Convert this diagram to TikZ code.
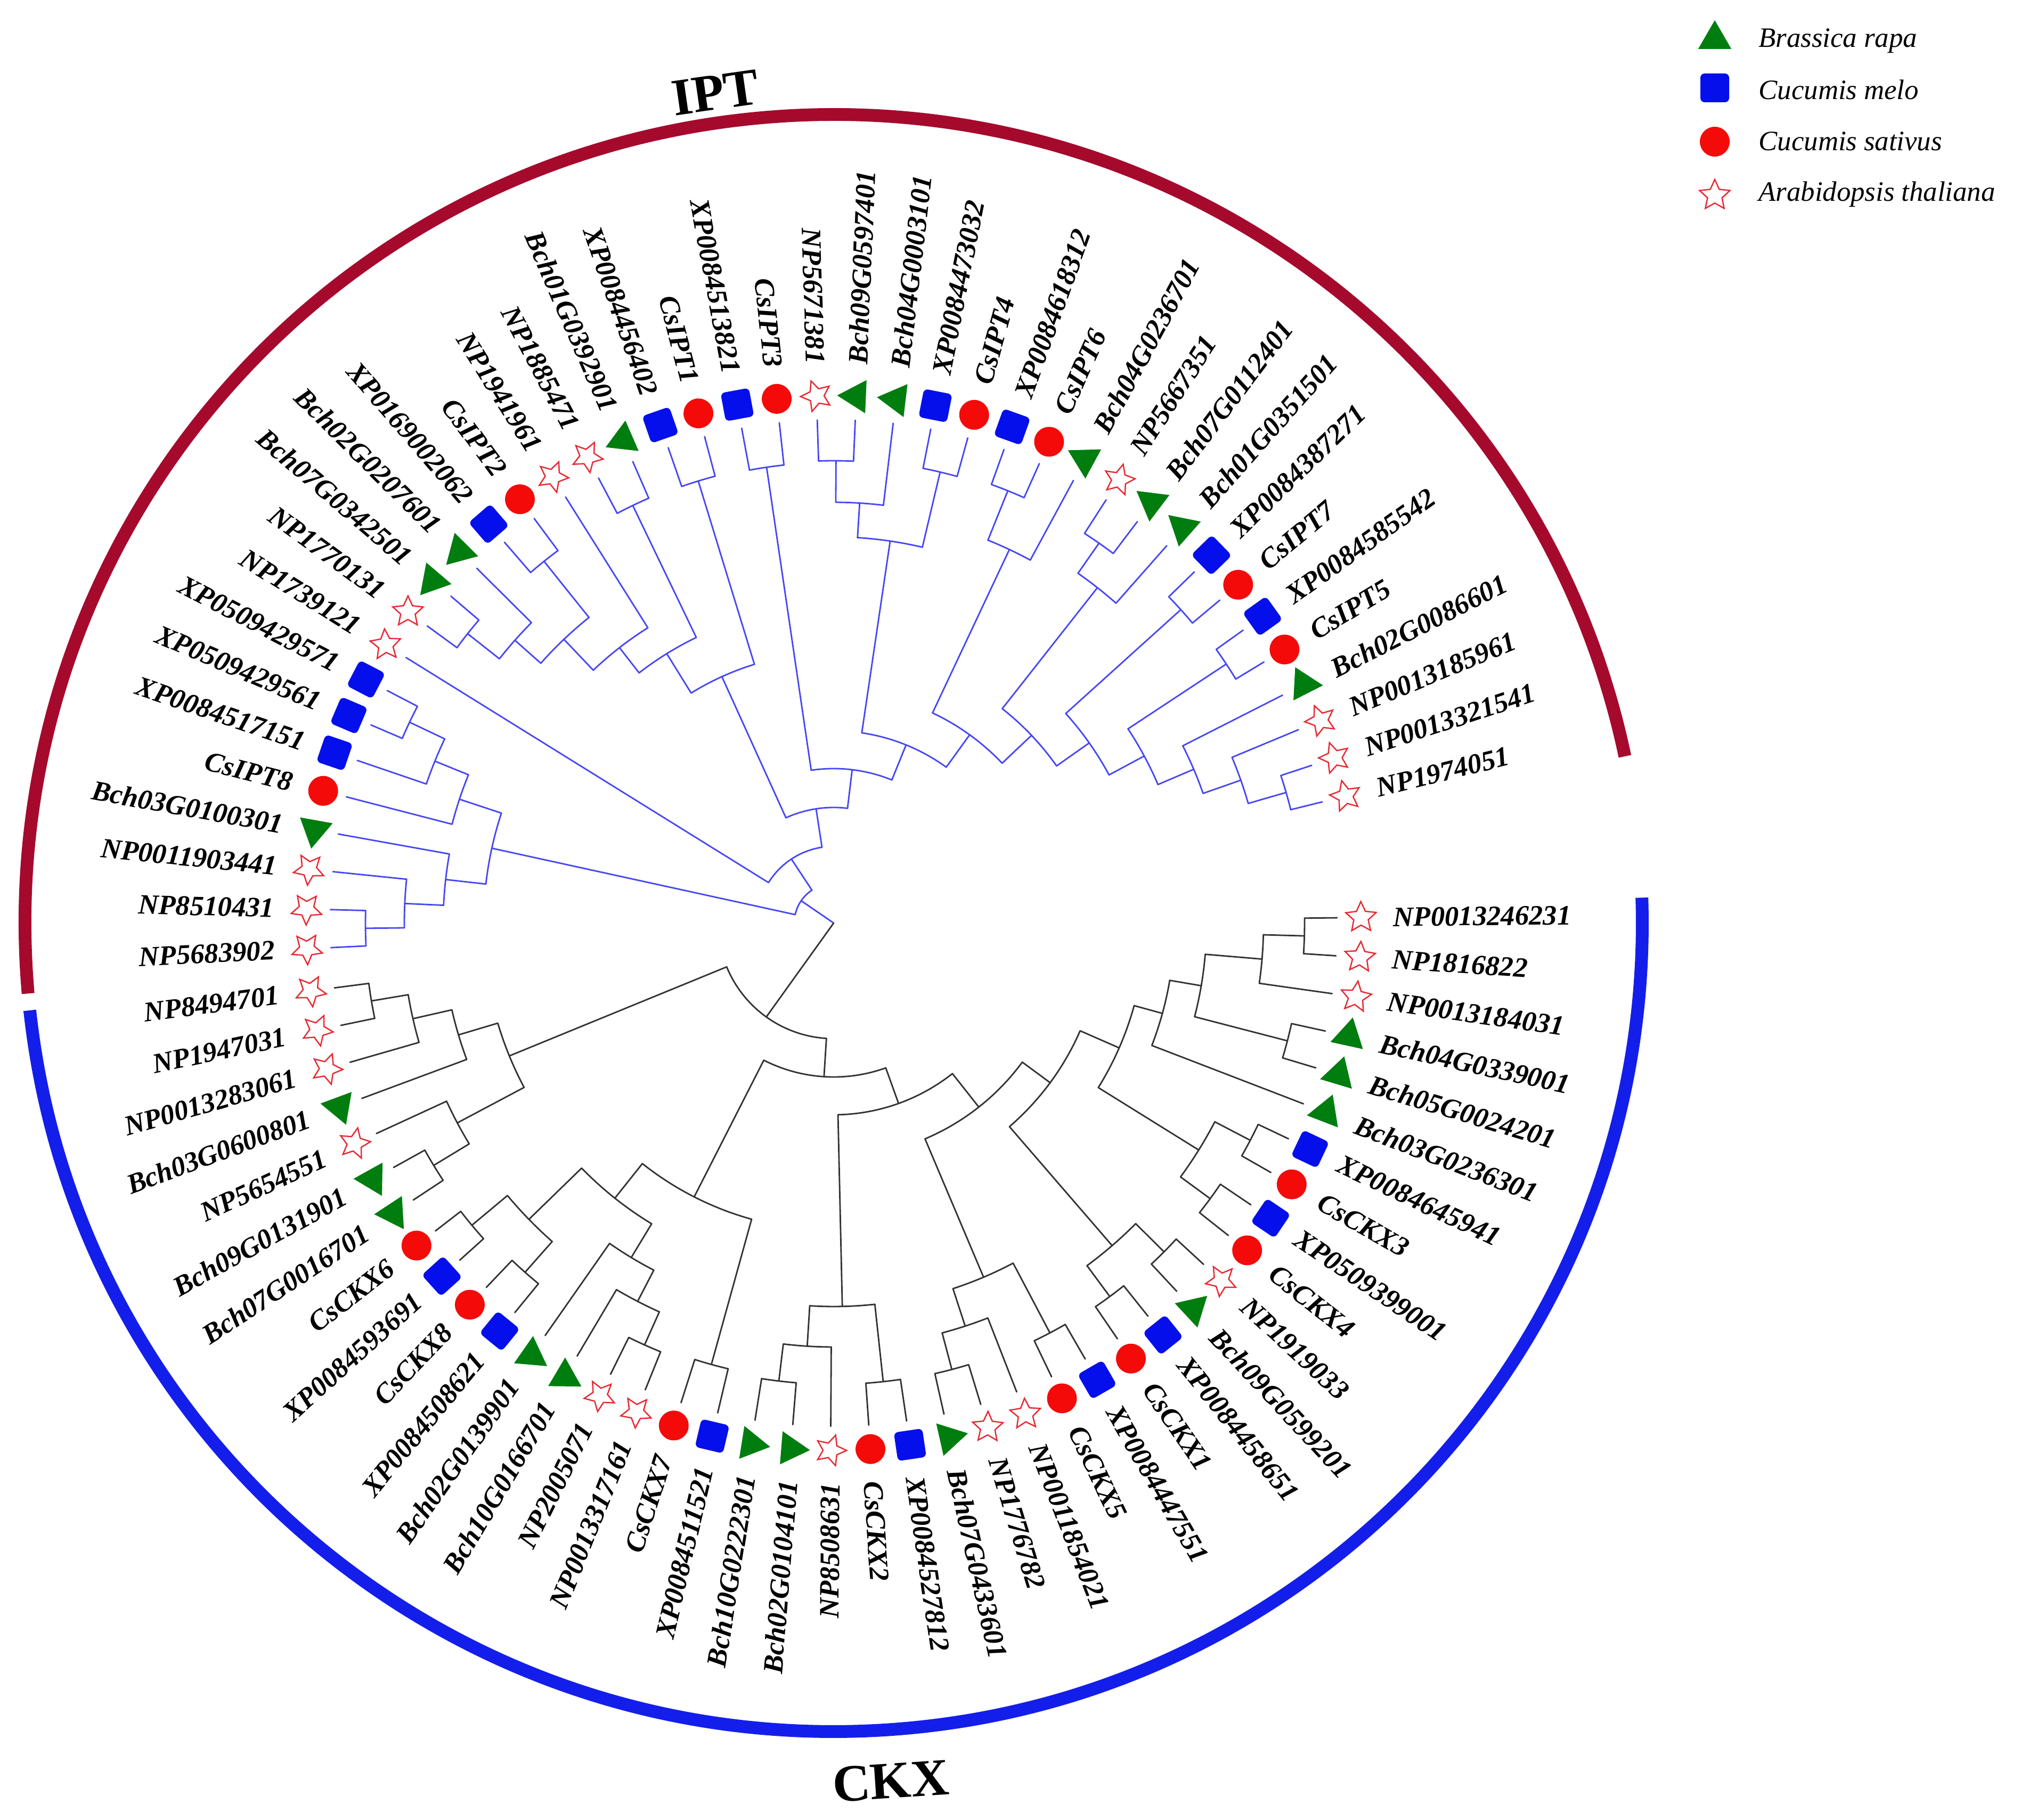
\documentclass[tikz,border=0pt]{standalone}
\usepackage{fontspec}
\setmainfont{Liberation Serif}
\usetikzlibrary{shapes.geometric}

\definecolor{brgreen}{RGB}{0,125,15}
\definecolor{cmblue}{RGB}{5,15,235}
\definecolor{csred}{RGB}{245,10,10}
\definecolor{atred}{RGB}{232,40,50}
\definecolor{iptline}{RGB}{70,70,245}
\definecolor{ckxline}{RGB}{50,50,50}
\definecolor{iptarc}{RGB}{165,10,45}
\definecolor{ckxarc}{RGB}{20,30,235}

\tikzset{
  brap/.style={regular polygon, regular polygon sides=3, fill=brgreen, minimum size=0.72cm, inner sep=0pt},
  cmel/.style={rectangle, rounded corners=0.08cm, fill=cmblue, minimum size=0.54cm, inner sep=0pt},
  csat/.style={circle, fill=csred, minimum size=0.56cm, inner sep=0pt},
  atha/.style={star, star points=5, star point ratio=2.1, draw=atred, line width=0.7pt, minimum size=0.6cm, inner sep=0pt},
  lab/.style={font=\fontsize{15}{18}\selectfont\bfseries\itshape, inner sep=0pt},
  key/.style={font=\fontsize{15}{18}\selectfont\itshape, inner sep=0pt, anchor=base west},
  title/.style={font=\fontsize{28}{32}\selectfont\bfseries, inner sep=0pt},
  ipt/.style={color=iptline, line width=0.8pt, line cap=round},
  ckx/.style={color=ckxline, line width=0.8pt, line cap=round},
}

% radial piece: angle, from radius, to radius
\newcommand{\brch}[3]{\draw (#1:#2) -- (#1:#3);}
% arc piece: radius, from angle, to angle
\newcommand{\harc}[3]{\draw (#2:#1) arc[start angle=#2, end angle=#3, radius=#1];}

\begin{document}
\begin{tikzpicture}
\useasboundingbox (-15.65,-16.84) rectangle (22.27,17.33);

% outer clade bands
\draw[iptarc, line width=0.24cm] (185:15.18) arc[start angle=185, end angle=11.9, radius=15.18];
\draw[ckxarc, line width=0.24cm] (1.8:15.18) arc[start angle=1.8, end angle=-173.8, radius=15.18];
\node[title, rotate=8.1] (tipt) at (98.1:15.75) {IPT};
\node[title, rotate=3.8] (tckx) at (-86.2:16.15) {CKX};

% IPT subtree
\begin{scope}[ipt]
\brch{145.56}{0}{0.74} \harc{0.74}{167.65}{123.46}
\brch{167.65}{0.74}{6.57} \harc{6.57}{173.6}{161.69}
\brch{173.6}{6.57}{7.33} \harc{7.33}{169.81}{177.39}
\brch{169.81}{7.33}{9.45}
\brch{177.39}{7.33}{8.06} \harc{8.06}{174.14}{180.64}
\brch{174.14}{8.06}{9.45}
\brch{180.64}{8.06}{8.79} \harc{8.79}{182.8}{178.47}
\brch{182.8}{8.79}{9.45} \brch{178.47}{8.79}{9.45}
\brch{161.69}{6.57}{7.40} \harc{7.40}{165.48}{157.9}
\brch{165.48}{7.40}{9.45}
\brch{157.9}{7.40}{8.08} \harc{8.08}{161.15}{154.66}
\brch{161.15}{8.08}{9.45}
\brch{154.66}{8.08}{8.81} \harc{8.81}{156.82}{152.49}
\brch{156.82}{8.81}{9.45} \brch{152.49}{8.81}{9.45}
\brch{123.46}{0.74}{1.44} \harc{1.44}{148.16}{98.76}
\brch{148.16}{1.44}{9.45}
\brch{98.76}{1.44}{2.17} \harc{2.17}{114.4}{83.12}
\brch{114.4}{2.17}{5.08} \harc{5.08}{121.78}{107.03}
\brch{121.78}{5.08}{5.95} \harc{5.95}{127.87}{115.69}
\brch{127.87}{5.95}{6.55} \harc{6.55}{133.55}{122.18}
\brch{122.18}{6.55}{9.45}
\brch{133.55}{6.55}{7.35} \harc{7.35}{138.42}{128.68}
\brch{138.42}{7.35}{8.00} \harc{8.00}{141.67}{135.17}
\brch{135.17}{8.00}{9.45}
\brch{141.67}{8.00}{8.76} \harc{8.76}{143.83}{139.5}
\brch{143.83}{8.76}{9.45} \brch{139.5}{8.76}{9.45}
\brch{128.68}{7.35}{8.70} \harc{8.70}{130.84}{126.51}
\brch{130.84}{8.70}{9.45} \brch{126.51}{8.70}{9.45}
\brch{115.69}{5.95}{8.70} \harc{8.70}{117.85}{113.52}
\brch{117.85}{8.70}{9.45} \brch{113.52}{8.70}{9.45}
\brch{107.03}{5.08}{8.68} \harc{8.68}{109.19}{104.86}
\brch{109.19}{8.68}{9.45} \brch{104.86}{8.68}{9.45}
\brch{83.12}{2.17}{2.90} \harc{2.90}{98.37}{67.88}
\brch{98.37}{2.90}{8.65} \harc{8.65}{100.53}{96.2}
\brch{100.53}{8.65}{9.45} \brch{96.2}{8.65}{9.45}
\brch{67.88}{2.90}{3.61} \harc{3.61}{81.59}{54.16}
\brch{81.59}{3.61}{7.25} \harc{7.25}{86.46}{76.72}
\brch{86.46}{7.25}{7.90} \harc{7.90}{89.71}{83.21}
\brch{83.21}{7.90}{9.45}
\brch{89.71}{7.90}{8.68} \harc{8.68}{91.87}{87.54}
\brch{91.87}{8.68}{9.45} \brch{87.54}{8.68}{9.45}
\brch{76.72}{7.25}{8.70} \harc{8.70}{78.88}{74.55}
\brch{78.88}{8.70}{9.45} \brch{74.55}{8.70}{9.45}
\brch{54.16}{3.61}{4.36} \harc{4.36}{64.81}{43.5}
\brch{64.81}{4.36}{7.75} \harc{7.75}{68.06}{61.56}
\brch{61.56}{7.75}{9.45}
\brch{68.06}{7.75}{8.75} \harc{8.75}{70.22}{65.89}
\brch{70.22}{8.75}{9.45} \brch{65.89}{8.75}{9.45}
\brch{43.5}{4.36}{5.12} \harc{5.12}{51.82}{35.18}
\brch{51.82}{5.12}{8.01} \harc{8.01}{55.07}{48.57}
\brch{48.57}{8.01}{9.45}
\brch{55.07}{8.01}{8.70} \harc{8.70}{57.23}{52.9}
\brch{57.23}{8.70}{9.45} \brch{52.9}{8.70}{9.45}
\brch{35.18}{5.12}{5.87} \harc{5.87}{42.08}{28.28}
\brch{42.08}{5.87}{8.78} \harc{8.78}{44.24}{39.91}
\brch{44.24}{8.78}{9.45} \brch{39.91}{8.78}{9.45}
\brch{28.28}{5.87}{6.62} \harc{6.62}{33.42}{23.13}
\brch{33.42}{6.62}{8.83} \harc{8.83}{35.58}{31.25}
\brch{35.58}{8.83}{9.45} \brch{31.25}{8.83}{9.45}
\brch{23.13}{6.62}{7.35} \harc{7.35}{26.92}{19.34}
\brch{26.92}{7.35}{9.45}
\brch{19.34}{7.35}{8.10} \harc{8.10}{22.59}{16.1}
\brch{22.59}{8.10}{9.45}
\brch{16.1}{8.10}{8.84} \harc{8.84}{18.26}{13.93}
\brch{18.26}{8.84}{9.45} \brch{13.93}{8.84}{9.45}
\end{scope}

% CKX subtree
\begin{scope}[ckx]
\brch{-125.66}{0}{2.17} \harc{2.17}{-157.72}{-93.6}
\brch{-157.72}{2.17}{6.58} \harc{6.58}{-163.4}{-152.03}
\brch{-163.4}{6.58}{7.35} \harc{7.35}{-159.61}{-167.19}
\brch{-159.61}{7.35}{9.45}
\brch{-167.19}{7.35}{8.10} \harc{8.10}{-163.94}{-170.435}
\brch{-163.94}{8.10}{9.45}
\brch{-170.435}{8.10}{8.80} \harc{8.80}{-168.27}{-172.6}
\brch{-168.27}{8.80}{9.45} \brch{-172.6}{8.80}{9.45}
\brch{-152.03}{6.58}{8.00} \harc{8.00}{-155.28}{-148.785}
\brch{-155.28}{8.00}{9.45}
\brch{-148.785}{8.00}{8.78} \harc{8.78}{-146.62}{-150.95}
\brch{-146.62}{8.78}{9.45} \brch{-150.95}{8.78}{9.45}
\brch{-93.6}{2.17}{2.89} \harc{2.89}{-116.99}{-70.22}
\brch{-116.99}{2.89}{5.77} \harc{5.77}{-128.49}{-105.485}
\brch{-105.485}{5.77}{8.60} \harc{8.60}{-103.32}{-107.65}
\brch{-103.32}{8.60}{9.45} \brch{-107.65}{8.60}{9.45}
\brch{-128.49}{5.77}{6.60} \harc{6.60}{-135.8}{-121.18}
\brch{-135.8}{6.60}{7.98} \harc{7.98}{-131.465}{-140.125}
\brch{-131.465}{7.98}{8.75} \harc{8.75}{-129.3}{-133.63}
\brch{-129.3}{8.75}{9.45} \brch{-133.63}{8.75}{9.45}
\brch{-140.125}{7.98}{8.85} \harc{8.85}{-137.96}{-142.29}
\brch{-137.96}{8.85}{9.45} \brch{-142.29}{8.85}{9.45}
\brch{-121.18}{6.60}{7.34} \harc{7.34}{-124.97}{-117.39}
\brch{-124.97}{7.34}{9.45}
\brch{-117.39}{7.34}{8.00} \harc{8.00}{-120.64}{-114.145}
\brch{-120.64}{8.00}{9.45}
\brch{-114.145}{8.00}{8.68} \harc{8.68}{-111.98}{-116.31}
\brch{-111.98}{8.68}{9.45} \brch{-116.31}{8.68}{9.45}
\brch{-70.22}{2.89}{3.60} \harc{3.60}{-88.71}{-51.74}
\brch{-88.71}{3.60}{7.20} \harc{7.20}{-93.58}{-83.835}
\brch{-93.58}{7.20}{7.96} \harc{7.96}{-90.33}{-96.825}
\brch{-90.33}{7.96}{9.45}
\brch{-96.825}{7.96}{8.66} \harc{8.66}{-94.66}{-98.99}
\brch{-94.66}{8.66}{9.45} \brch{-98.99}{8.66}{9.45}
\brch{-83.835}{7.20}{8.66} \harc{8.66}{-81.67}{-86.0}
\brch{-81.67}{8.66}{9.45} \brch{-86.0}{8.66}{9.45}
\brch{-51.74}{3.60}{4.40} \harc{4.40}{-67.06}{-36.41}
\brch{-67.06}{4.40}{7.22} \harc{7.22}{-62.185}{-71.93}
\brch{-62.185}{7.22}{8.70} \harc{8.70}{-60.02}{-64.35}
\brch{-60.02}{8.70}{9.45} \brch{-64.35}{8.70}{9.45}
\brch{-71.93}{7.22}{7.96} \harc{7.96}{-68.68}{-75.175}
\brch{-68.68}{7.96}{9.45}
\brch{-75.175}{7.96}{8.67} \harc{8.67}{-73.01}{-77.34}
\brch{-73.01}{8.67}{9.45} \brch{-77.34}{8.67}{9.45}
\brch{-36.41}{4.40}{5.05} \harc{5.05}{-23.62}{-49.2}
\brch{-49.2}{5.05}{8.00} \harc{8.00}{-44.865}{-53.525}
\brch{-44.865}{8.00}{8.75} \harc{8.75}{-42.7}{-47.03}
\brch{-42.7}{8.75}{9.45} \brch{-47.03}{8.75}{9.45}
\brch{-53.525}{8.00}{8.72} \harc{8.72}{-51.36}{-55.69}
\brch{-51.36}{8.72}{9.45} \brch{-55.69}{8.72}{9.45}
\brch{-23.62}{5.05}{5.85} \harc{5.85}{-15.37}{-31.875}
\brch{-31.875}{5.85}{8.07} \harc{8.07}{-27.545}{-36.205}
\brch{-27.545}{8.07}{8.82} \harc{8.82}{-25.38}{-29.71}
\brch{-25.38}{8.82}{9.45} \brch{-29.71}{8.82}{9.45}
\brch{-36.205}{8.07}{8.76} \harc{8.76}{-34.04}{-38.37}
\brch{-34.04}{8.76}{9.45} \brch{-38.37}{8.76}{9.45}
\brch{-15.37}{5.85}{6.40} \harc{6.40}{-9.68}{-21.05}
\brch{-21.05}{6.40}{9.45}
\brch{-9.68}{6.40}{7.00} \harc{7.00}{-4.81}{-14.555}
\brch{-4.81}{7.00}{8.07} \harc{8.07}{-1.565}{-8.06}
\brch{-8.06}{8.07}{9.45}
\brch{-1.565}{8.07}{8.84} \harc{8.84}{0.6}{-3.73}
\brch{0.6}{8.84}{9.45} \brch{-3.73}{8.84}{9.45}
\brch{-14.555}{7.00}{8.80} \harc{8.80}{-12.39}{-16.72}
\brch{-12.39}{8.80}{9.45} \brch{-16.72}{8.80}{9.45}
\end{scope}

% leaves whose labels read outward to the right
\foreach \a/\t/\s [count=\i] in {
  87.54/Bch09G0597401/brap, 83.21/Bch04G0003101/brap, 78.88/XP0084473032/cmel,
  74.55/CsIPT4/csat, 70.22/XP0084618312/cmel, 65.89/CsIPT6/csat,
  61.56/Bch04G0236701/brap, 57.23/NP5667351/atha, 52.9/Bch07G0112401/brap,
  48.57/Bch01G0351501/brap, 44.24/XP0084387271/cmel, 39.91/CsIPT7/csat,
  35.58/XP0084585542/cmel, 31.25/CsIPT5/csat, 26.92/Bch02G0086601/brap,
  22.59/NP0013185961/atha, 18.26/NP0013321541/atha, 13.93/NP1974051/atha,
  0.6/NP0013246231/atha, -3.73/NP1816822/atha, -8.06/NP0013184031/atha,
  -12.39/Bch04G0339001/brap, -16.72/Bch05G0024201/brap, -21.05/Bch03G0236301/brap,
  -25.38/XP0084645941/cmel, -29.71/CsCKX3/csat, -34.04/XP0509399001/cmel,
  -38.37/CsCKX4/csat, -42.7/NP1919033/atha, -47.03/Bch09G0599201/brap,
  -51.36/XP0084458651/cmel, -55.69/CsCKX1/csat, -60.02/XP0084447551/cmel,
  -64.35/CsCKX5/csat, -68.68/NP0011854021/atha, -73.01/NP1776782/atha,
  -77.34/Bch07G0433601/brap, -81.67/XP0084527812/cmel, -86.0/CsCKX2/csat}
{
  \node[\s, rotate=\a] (mr\i) at (\a:9.9) {};
  \node[lab, rotate=\a, anchor=west] (tr\i) at (\a:10.5) {\t};
}

% leaves whose labels are turned over (left half)
\foreach \a/\t/\s [count=\i] in {
  182.8/NP5683902/atha, 178.47/NP8510431/atha, 174.14/NP0011903441/atha,
  169.81/Bch03G0100301/brap, 165.48/CsIPT8/csat, 161.15/XP0084517151/cmel,
  156.82/XP0509429561/cmel, 152.49/XP0509429571/cmel, 148.16/NP1739121/atha,
  143.83/NP1770131/atha, 139.5/Bch07G0342501/brap, 135.17/Bch02G0207601/brap,
  130.84/XP0169002062/cmel, 126.51/CsIPT2/csat, 122.18/NP1941961/atha,
  117.85/NP1885471/atha, 113.52/Bch01G0392901/brap, 109.19/XP0084456402/cmel,
  104.86/CsIPT1/csat, 100.53/XP0084513821/cmel, 96.2/CsIPT3/csat,
  91.87/NP5671381/atha,
  -90.33/NP8508631/atha, -94.66/Bch02G0104101/brap, -98.99/Bch10G0222301/brap,
  -103.32/XP0084511521/cmel, -107.65/CsCKX7/csat, -111.98/NP0013317161/atha,
  -116.31/NP2005071/atha, -120.64/Bch10G0166701/brap, -124.97/Bch02G0139901/brap,
  -129.3/XP0084508621/cmel, -133.63/CsCKX8/csat, -137.96/XP0084593691/cmel,
  -142.29/CsCKX6/csat, -146.62/Bch07G0016701/brap, -150.95/Bch09G0131901/brap,
  -155.28/NP5654551/atha, -159.61/Bch03G0600801/brap, -163.94/NP0013283061/atha,
  -168.27/NP1947031/atha, -172.6/NP8494701/atha}
{
  \node[\s, rotate=\a] (ml\i) at (\a:9.9) {};
  \node[lab, rotate=\a-180, anchor=east] (tl\i) at (\a:10.5) {\t};
}

% legend
\node[brap] (kbr) at (16.54,16.59) {};
\node[key] (lbr) at (17.36,16.44) {Brassica rapa};
\node[cmel] (kcm) at (16.54,15.68) {};
\node[key] (lcm) at (17.36,15.46) {Cucumis melo};
\node[csat] (kcs) at (16.54,14.67) {};
\node[key] (lcs) at (17.36,14.50) {Cucumis sativus};
\node[atha] (kat) at (16.54,13.66) {};
\node[key] (lat) at (17.36,13.55) {Arabidopsis thaliana};
\end{tikzpicture}
\end{document}
